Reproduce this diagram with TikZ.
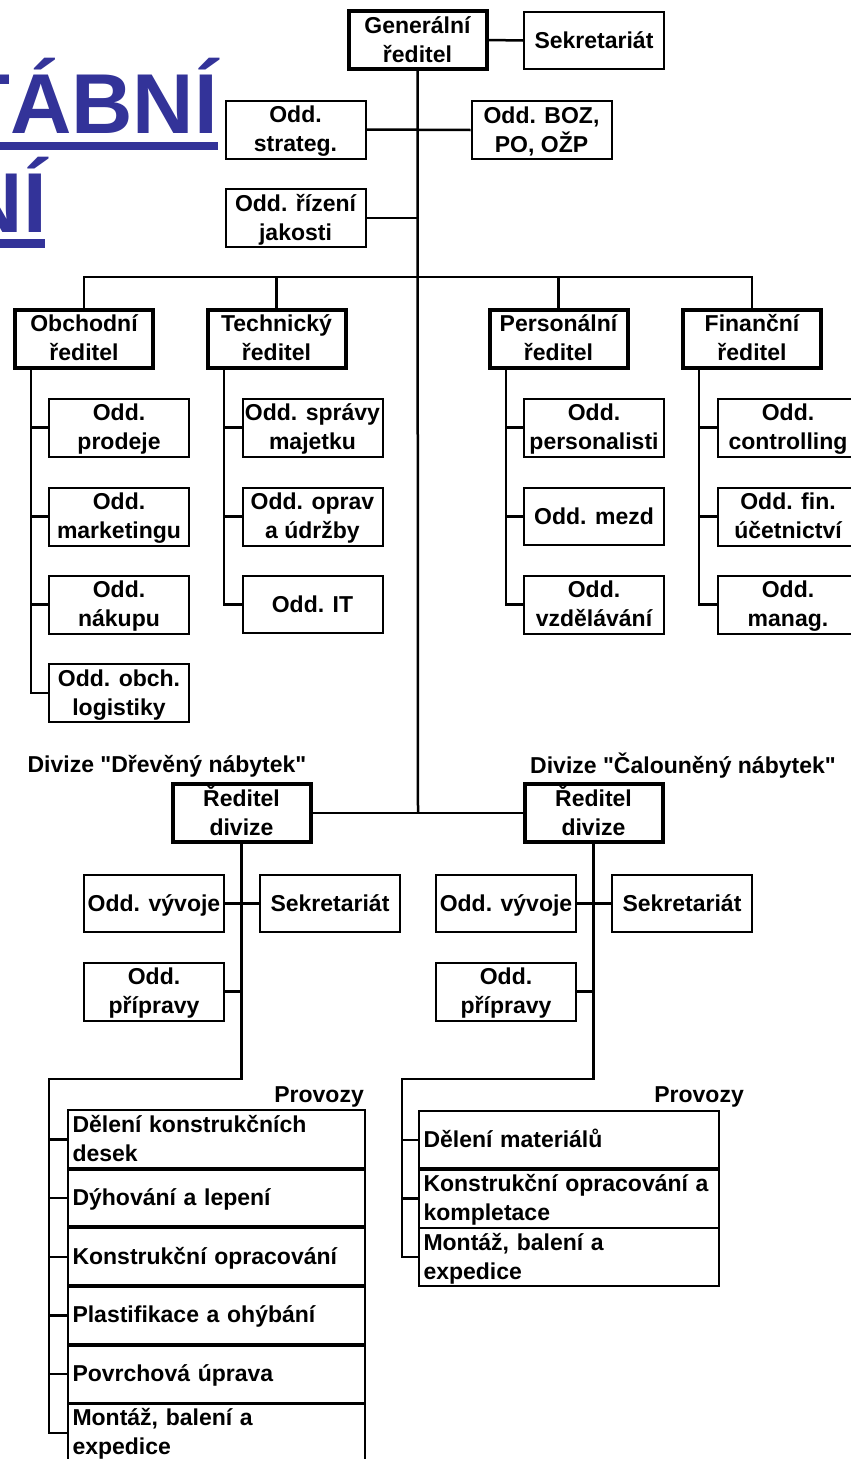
\documentclass[tikz,border=0pt]{standalone}
\usepackage{fontspec}
\setmainfont{Liberation Sans}
\newcommand\chartfont{\bfseries\fontsize{23pt}{29pt}\selectfont}
\newcommand\titlefont{\bfseries\fontsize{85pt}{100pt}\selectfont}
\newcommand\Ls{\rule[-7pt]{0pt}{29pt}}
\definecolor{titleblue}{RGB}{51,51,153}
\tikzset{
  boxbase/.style={draw, font=\chartfont, align=center, inner sep=0pt},
  thinbox/.style={boxbase, line width=2pt, minimum width=140pt, minimum height=57pt},
  thickbox/.style={boxbase, line width=4pt, minimum width=138pt, minimum height=58pt},
  conn/.style={line width=2.5pt},
  rowbox/.style={draw, line width=2pt, font=\chartfont, align=left, inner ysep=0pt, inner xsep=4.5pt, minimum height=56.7pt},
  lrow/.style={rowbox, text width=288pt},
  rrow/.style={rowbox, text width=291pt},
  lbl/.style={font=\chartfont, inner sep=0pt},
  titletext/.style={font=\titlefont, text=titleblue, inner sep=0pt}
}
\begin{document}
\begin{tikzpicture}[x=1pt, y=-1pt]
\useasboundingbox[fill=white] (0,0) rectangle (851,1459);
\clip (0,0) rectangle (851,1459);
% title
\node[titletext, anchor=base east] (t1) at (218,133) {TÁBNÍ};
\node[titletext, anchor=base east] (t2) at (47,232) {NÍ};
\fill[titleblue] (-60,142) rectangle (218,150);
\fill[titleblue] (-60,239) rectangle (45,248);
% top
\node[thickbox] (gen) at (417.5,40) {\Ls Generální\\ředitel\Ls};
\node[thinbox] (sek) at (594,40.5) {\Ls Sekretariát};
\node[thinbox] (strat) at (295.5,129.5) {\Ls Odd.\\strateg.\Ls};
\node[thinbox] (boz) at (541.5,130) {\Ls Odd. BOZ,\\PO, OŽP\Ls};
\node[thinbox] (jak) at (295.5,218) {\Ls Odd. řízení\\jakosti\Ls};
% directors
\node[thickbox] (obch) at (84,338.5) {\Ls Obchodní\\ředitel\Ls};
\node[thickbox] (tech) at (276.5,338.5) {\Ls Technický\\ředitel\Ls};
\node[thickbox] (pers) at (558.5,338.5) {\Ls Personální\\ředitel\Ls};
\node[thickbox] (fin) at (752,338.5) {\Ls Finanční\\ředitel\Ls};
% departments
\node[thinbox] (o1) at (119,427.5) {\Ls Odd.\\prodeje\Ls};
\node[thinbox] (o2) at (119,516.5) {\Ls Odd.\\marketingu\Ls};
\node[thinbox] (o3) at (119,604.5) {\Ls Odd.\\nákupu\Ls};
\node[thinbox] (o4) at (119,693) {\Ls Odd. obch.\\logistiky\Ls};
\node[thinbox] (te1) at (312.5,427.5) {\Ls Odd. správy\\majetku\Ls};
\node[thinbox] (te2) at (312.5,516.5) {\Ls Odd. oprav\\a údržby\Ls};
\node[thinbox] (te3) at (312.5,604.5) {\Ls Odd. IT};
\node[thinbox] (p1) at (594,427.5) {\Ls Odd.\\personalisti\Ls};
\node[thinbox] (p2) at (594,516.5) {\Ls Odd. mezd};
\node[thinbox] (p3) at (594,604.5) {\Ls Odd.\\vzdělávání\Ls};
\node[thinbox] (f1) at (788,427.5) {\Ls Odd.\\controlling\Ls};
\node[thinbox] (f2) at (788,516.5) {\Ls Odd. fin.\\účetnictví\Ls};
\node[thinbox] (f3) at (788,604.5) {\Ls Odd.\\manag.\Ls};
% divisions
\node[lbl] (dlL) at (167,766) {Divize \textquotedbl Dřevěný nábytek\textquotedbl};
\node[lbl] (dlR) at (683,766) {Divize \textquotedbl Čalouněný nábytek\textquotedbl};
\node[thickbox] (divL) at (241.5,813) {\Ls Ředitel\\divize\Ls};
\node[thickbox] (divR) at (593.5,813) {\Ls Ředitel\\divize\Ls};
\node[thinbox] (vyvL) at (154,903.5) {\Ls Odd. vývoje};
\node[thinbox] (sekL) at (330,903.5) {\Ls Sekretariát};
\node[thinbox] (pripL) at (154,991.5) {\Ls Odd.\\přípravy\Ls};
\node[thinbox] (vyvR) at (506,903.5) {\Ls Odd. vývoje};
\node[thinbox] (sekR) at (682,903.5) {\Ls Sekretariát};
\node[thinbox] (pripR) at (506,991.5) {\Ls Odd.\\přípravy\Ls};
% provozy
\node[lbl, anchor=base east] (provL) at (364,1102) {Provozy};
\node[lbl, anchor=base east] (provR) at (744,1102) {Provozy};
\node[lrow] (l1) at (216.5,1139.35) {\Ls Dělení konstrukčních\\desek\Ls};
\node[lrow] (l2) at (216.5,1198.05) {\Ls Dýhování a lepení};
\node[lrow] (l3) at (216.5,1256.75) {\Ls Konstrukční opracování};
\node[lrow] (l4) at (216.5,1315.45) {\Ls Plastifikace a ohýbání};
\node[lrow] (l5) at (216.5,1374.15) {\Ls Povrchová úprava};
\node[lrow] (l6) at (216.5,1432.85) {\Ls Montáž, balení a\\expedice\Ls};
\node[rrow] (r1) at (569,1139.8) {\Ls Dělení materiálů};
\node[rrow] (r2) at (569,1198.5) {\Ls Konstrukční opracování a\\kompletace\Ls};
\node[rrow] (r3) at (569,1257.2) {\Ls Montáž, balení a\\expedice\Ls};
% coordinates
\coordinate (mainend) at (418,813);
\coordinate (bar) at (418,277);
\coordinate (ov) at (31,370);
\coordinate (tv) at (224,370);
\coordinate (pv) at (506,370);
\coordinate (fv) at (699,370);
\coordinate (cL) at (49,1079);
\coordinate (cR) at (402,1079);
% connectors
\begin{scope}[conn]
\draw (gen.east) -- (sek.west);
\draw (gen.south) -- (mainend);
\draw (strat.east) -- (boz.west);
\draw (jak.east) -- (jak.east -| gen.south);
\draw (obch.north) |- (bar) -| (fin.north);
\draw (tech.north) -- (tech.north |- bar);
\draw (pers.north) -- (pers.north |- bar);
\draw (ov) |- (o4.west);
\draw (o1.west) -- (o1.west -| ov);
\draw (o2.west) -- (o2.west -| ov);
\draw (o3.west) -- (o3.west -| ov);
\draw (tv) |- (te3.west);
\draw (te1.west) -- (te1.west -| tv);
\draw (te2.west) -- (te2.west -| tv);
\draw (pv) |- (p3.west);
\draw (p1.west) -- (p1.west -| pv);
\draw (p2.west) -- (p2.west -| pv);
\draw (fv) |- (f3.west);
\draw (f1.west) -- (f1.west -| fv);
\draw (f2.west) -- (f2.west -| fv);
\draw (divL.east) -- (divR.west);
\draw (vyvL.east) -- (sekL.west);
\draw (pripL.east) -- (pripL.east -| divL.south);
\draw (vyvR.east) -- (sekR.west);
\draw (pripR.east) -- (pripR.east -| divR.south);
\draw (divL.south) |- (cL) |- (l6.west);
\draw (l1.west) -- (l1.west -| cL);
\draw (l2.west) -- (l2.west -| cL);
\draw (l3.west) -- (l3.west -| cL);
\draw (l4.west) -- (l4.west -| cL);
\draw (l5.west) -- (l5.west -| cL);
\draw (divR.south) |- (cR) |- (r3.west);
\draw (r1.west) -- (r1.west -| cR);
\draw (r2.west) -- (r2.west -| cR);
\end{scope}
\end{tikzpicture}
\end{document}
